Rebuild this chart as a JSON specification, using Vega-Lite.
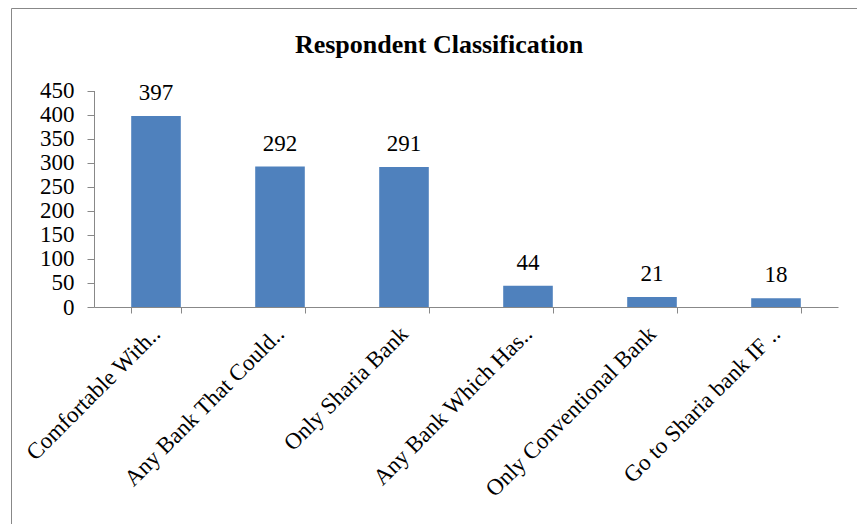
{
  "$schema": "https://vega.github.io/schema/vega-lite/v6.json",
  "width": 860,
  "height": 530,
  "autosize": {"type": "none"},
  "padding": {"left": 11, "top": 8, "right": -14, "bottom": -14},
  "background": "white",
  "title": {
    "text": "Respondent Classification",
    "font": "Liberation Serif",
    "fontSize": 26,
    "fontWeight": "bold",
    "color": "black",
    "anchor": "middle",
    "frame": "group",
    "baseline": "alphabetic",
    "offset": -45,
    "dy": 26,
    "dx": -2
  },
  "data": {
    "values": [
      {"category": "Comfortable With..", "count": 397},
      {"category": "Any Bank That Could..", "count": 292},
      {"category": "Only Sharia Bank", "count": 291},
      {"category": "Any Bank Which Has..", "count": 44},
      {"category": "Only Conventional Bank", "count": 21},
      {"category": "Go to Sharia bank IF ..", "count": 18}
    ]
  },
  "encoding": {
    "x": {
      "field": "category",
      "type": "nominal",
      "sort": null,
      "scale": {"range": [83, 827], "paddingInner": 0.6, "paddingOuter": 0.3},
      "axis": {
        "title": null,
        "offset": -231,
        "tickBand": "extent",
        "tickSize": 6,
        "tickColor": "#888",
        "domainColor": "#888",
        "labelAngle": -45,
        "labelAlign": "right",
        "labelBaseline": "middle",
        "labelFont": "Liberation Serif",
        "labelFontSize": 23,
        "labelColor": "black",
        "labelPadding": 17,
        "labelLimit": 400,
        "grid": false
      }
    },
    "y": {
      "field": "count",
      "type": "quantitative",
      "scale": {"domain": [0, 450], "range": [299, 82.5], "nice": false, "zero": true},
      "axis": {
        "title": null,
        "offset": -83,
        "values": [0, 50, 100, 150, 200, 250, 300, 350, 400, 450],
        "tickSize": 7,
        "tickColor": "#888",
        "domainColor": "#888",
        "labelFont": "Liberation Serif",
        "labelFontSize": 23,
        "labelColor": "black",
        "labelPadding": 13,
        "labelFlush": false,
        "labelOverlap": false,
        "grid": false
      }
    }
  },
  "layer": [
    {"mark": {"type": "bar", "color": "#4f81bd"}},
    {
      "mark": {"type": "text", "baseline": "alphabetic", "dy": -16, "font": "Liberation Serif", "fontSize": 23, "color": "black"},
      "encoding": {"text": {"field": "count", "type": "quantitative"}}
    }
  ],
  "config": {"view": {"stroke": "#888", "strokeWidth": 1}}
}
